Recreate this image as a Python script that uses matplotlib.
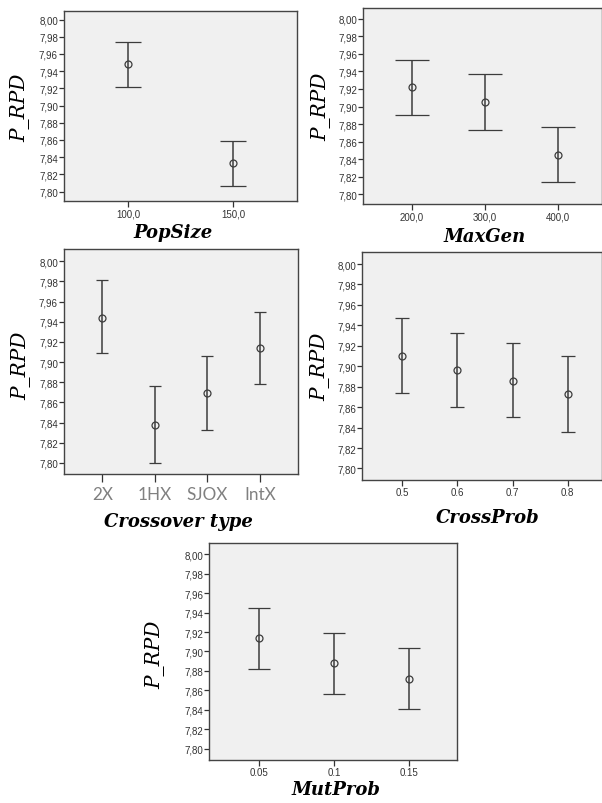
import matplotlib
matplotlib.use("Agg")
import matplotlib.pyplot as plt
from matplotlib.ticker import FuncFormatter, FixedLocator

W, H = 602, 804

# ---------------- data ----------------
pop_x = [100.0, 150.0]
pop_mean = [7.948, 7.833]
pop_lo = [7.922, 7.807]
pop_hi = [7.974, 7.859]

gen_x = [200.0, 300.0, 400.0]
gen_mean = [7.922, 7.905, 7.845]
gen_lo = [7.890, 7.873, 7.814]
gen_hi = [7.953, 7.937, 7.877]

cx_labels = ["2X", "1HX", "SJOX", "IntX"]
cx_mean = [7.944, 7.838, 7.869, 7.914]
cx_lo = [7.909, 7.800, 7.833, 7.878]
cx_hi = [7.981, 7.876, 7.906, 7.950]

cp_x = [0.5, 0.6, 0.7, 0.8]
cp_labels = ["0.5", "0.6", "0.7", "0.8"]
cp_mean = [7.910, 7.896, 7.886, 7.873]
cp_lo = [7.874, 7.860, 7.850, 7.836]
cp_hi = [7.947, 7.933, 7.923, 7.910]

mp_x = [0.05, 0.10, 0.15]
mp_labels = ["0.05", "0.1", "0.15"]
mp_mean = [7.914, 7.888, 7.872]
mp_lo = [7.882, 7.856, 7.841]
mp_hi = [7.945, 7.919, 7.904]

y_ticks = [7.80, 7.82, 7.84, 7.86, 7.88, 7.90, 7.92, 7.94, 7.96, 7.98, 8.00]

# ---------------- figure ----------------
fig = plt.figure(figsize=(W / 100, H / 100), dpi=100)
fig.patch.set_facecolor("white")

BG = "#f0f0f0"
LINE = "#3c3c3c"
TXT = "#333333"
TICKSIZE = 7.0


def make_axes(x0, y0, x1, y1):
    return fig.add_axes([x0 / W, 1 - y1 / H, (x1 - x0) / W, (y1 - y0) / H])


def style(ax, ylim, xlim):
    ax.set_facecolor(BG)
    for s in ax.spines.values():
        s.set_color("#444444")
        s.set_linewidth(1.0)
    ax.set_ylim(*ylim)
    ax.set_xlim(*xlim)
    ax.yaxis.set_major_locator(FixedLocator(y_ticks))
    ax.yaxis.set_major_formatter(FuncFormatter(lambda v, p: f"{v:.2f}".replace(".", ",")))
    ax.tick_params(axis="y", direction="out", length=3.6, width=0.9, color="#333333",
                   labelsize=TICKSIZE, labelcolor=TXT, pad=0.8)
    ax.tick_params(axis="x", direction="out", length=4, width=0.9, color="#333333",
                   labelsize=TICKSIZE, labelcolor=TXT, pad=1.5)
    for lab in ax.get_yticklabels() + ax.get_xticklabels():
        lab.set_fontfamily("Liberation Sans")


def draw(ax, x, mean, lo, hi, capsize):
    yerr = [[m - l for m, l in zip(mean, lo)], [h - m for m, h in zip(mean, hi)]]
    ax.errorbar(x, mean, yerr=yerr, fmt="o", color=LINE, ecolor=LINE, elinewidth=1.1,
                capsize=capsize, capthick=1.1, markersize=5.0, markerfacecolor="none",
                markeredgecolor=LINE, markeredgewidth=0.9)


def xlabel(txt, cx, cy):
    fig.text(cx / W, 1 - cy / H, txt, ha="center", va="center", fontsize=13,
             fontfamily="DejaVu Serif", fontweight="bold", fontstyle="italic", color="black")


def ylabel(cx, cy):
    fig.text(cx / W, 1 - cy / H, "P_RPD", ha="center", va="center", rotation=90,
             fontsize=14.5, fontfamily="DejaVu Serif", fontstyle="italic", color="black")


# Panel 1: PopSize
ax1 = make_axes(64, 12, 297, 202)
style(ax1, (7.789, 8.010), (69.4, 180.3))
draw(ax1, pop_x, pop_mean, pop_lo, pop_hi, 9.6)
ax1.xaxis.set_major_locator(FixedLocator(pop_x))
ax1.xaxis.set_major_formatter(FuncFormatter(lambda v, p: f"{v:.1f}".replace(".", ",")))
for lab in ax1.get_xticklabels():
    lab.set_fontfamily("Liberation Sans")
xlabel("PopSize", 173.3, 233)
ylabel(20, 108)

# Panel 2: MaxGen
ax2 = make_axes(363.3, 9.3, 602, 205)
style(ax2, (7.7886, 8.0122), (134.0, 459.6))
draw(ax2, gen_x, gen_mean, gen_lo, gen_hi, 11.9)
ax2.xaxis.set_major_locator(FixedLocator(gen_x))
ax2.xaxis.set_major_formatter(FuncFormatter(lambda v, p: f"{v:.1f}".replace(".", ",")))
for lab in ax2.get_xticklabels():
    lab.set_fontfamily("Liberation Sans")
xlabel("MaxGen", 484.9, 236.7)
ylabel(321.7, 107)

# Panel 3: Crossover type
ax3 = make_axes(64, 250, 297.7, 475)
style(ax3, (7.789, 8.0122), (-0.73, 3.72))
cx_pos = list(range(len(cx_labels)))
draw(ax3, cx_pos, cx_mean, cx_lo, cx_hi, 4.3)
ax3.set_xticks(cx_pos)
ax3.set_xticklabels(cx_labels, fontsize=12.3, color="#808080", fontfamily="Lato")
ax3.tick_params(axis="x", length=5.8, pad=2.5)
xlabel("Crossover type", 178.3, 521.7)
ylabel(21.7, 366)

# Panel 4: CrossProb
ax4 = make_axes(362.3, 253.3, 602, 480.7)
style(ax4, (7.789, 8.0115), (0.4274, 0.8623))
draw(ax4, cp_x, cp_mean, cp_lo, cp_hi, 4.7)
ax4.set_xticks(cp_x)
ax4.set_xticklabels(cp_labels, fontfamily="Liberation Sans")
xlabel("CrossProb", 487.3, 518)
ylabel(320, 367)

# Panel 5: MutProb
ax5 = make_axes(209.3, 544.3, 456.7, 760.7)
style(ax5, (7.789, 8.011), (0.0168, 0.1821))
draw(ax5, mp_x, mp_mean, mp_lo, mp_hi, 7.9)
ax5.set_xticks(mp_x)
ax5.set_xticklabels(mp_labels, fontfamily="Liberation Sans")
xlabel("MutProb", 336.5, 790)
ylabel(155, 655)

fig.savefig("out.png", dpi=100, facecolor="white")
